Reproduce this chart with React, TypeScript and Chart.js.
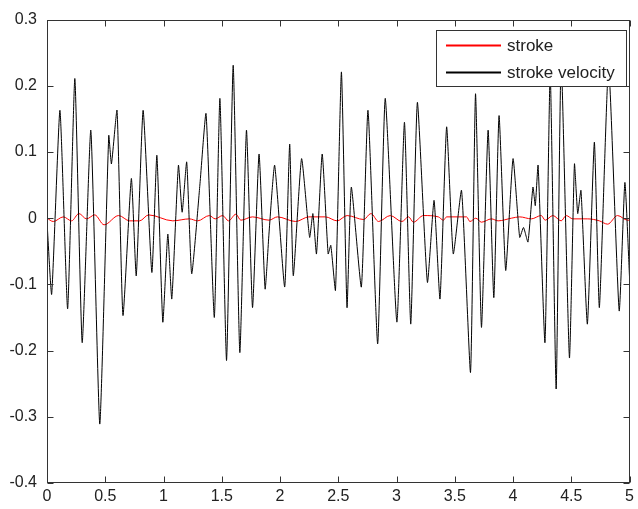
import React, { useEffect, useRef } from "react";
import { Chart, registerables } from "chart.js";

Chart.register(...registerables);

// time (s) and values of "stroke velocity" (black)
const velocityTime = [
  0.0, 0.04, 0.111, 0.177, 0.239, 0.302, 0.376, 0.453, 0.53, 0.553, 0.601, 0.652, 0.724, 0.766, 0.825,
  0.9, 0.943, 0.994, 1.037, 1.071, 1.128, 1.16, 1.199, 1.242, 1.313, 1.365, 1.436, 1.484, 1.541, 1.598,
  1.655, 1.712, 1.764, 1.82, 1.872, 1.905, 1.954, 2.04, 2.083, 2.114, 2.185, 2.254, 2.282, 2.313, 2.362,
  2.413, 2.436, 2.476, 2.527, 2.575, 2.612, 2.698, 2.755, 2.838, 2.903, 3.003, 3.068, 3.122, 3.179, 3.265,
  3.322, 3.373, 3.43, 3.487, 3.558, 3.635, 3.678, 3.729, 3.786, 3.835, 3.88, 3.937, 4.0, 4.057, 4.09,
  4.128, 4.171, 4.191, 4.215, 4.274, 4.319, 4.37, 4.413, 4.484, 4.527, 4.555, 4.583, 4.638, 4.698, 4.741,
  4.82, 4.911, 4.96, 5.0,
];
const velocityValues = [
  -0.005, -0.115, 0.163, -0.137, 0.211, -0.188, 0.133, -0.311, 0.125, 0.082, 0.163, -0.147, 0.06, -0.087, 0.163,
  -0.082, 0.095, -0.157, -0.024, -0.122, 0.08, 0.009, 0.085, -0.084, 0.052, 0.158, -0.15, 0.181, -0.215, 0.231,
  -0.203, 0.133, -0.135, 0.097, -0.107, -0.024, 0.08, -0.104, 0.112, -0.087, 0.09, -0.029, 0.007, -0.054, 0.097,
  -0.054, -0.041, -0.109, 0.221, -0.135, 0.047, -0.104, 0.163, -0.19, 0.181, -0.157, 0.145, -0.16, 0.175, -0.097,
  0.027, -0.122, 0.138, -0.054, 0.042, -0.233, 0.188, -0.165, 0.133, -0.12, 0.155, -0.079, 0.09, -0.029, -0.014,
  -0.036, 0.047, 0.019, 0.08, -0.188, 0.22, -0.258, 0.24, -0.211, 0.082, 0.007, 0.042, -0.16, 0.115, -0.135,
  0.23, -0.14, 0.054, -0.09,
];

// time (s) and values of "stroke" (red)
const strokeTime = [
  0, 0.054, 0.14, 0.211, 0.274, 0.339, 0.41, 0.49, 0.615, 0.709, 0.795, 0.872, 1.08, 1.222, 1.293, 1.393,
  1.444, 1.507, 1.558, 1.621, 1.664, 1.764, 1.906, 1.977, 2.134, 2.248, 2.39, 2.49, 2.576, 2.718, 2.78,
  2.846, 2.946, 3.046, 3.103, 3.145, 3.231, 3.359, 3.402, 3.43, 3.601, 3.63, 3.68, 3.729, 3.815, 3.872,
  3.986, 4.057, 4.157, 4.242, 4.276, 4.342, 4.413, 4.456, 4.513, 4.641, 4.741, 4.812, 4.897, 4.983, 5.0,
];
const strokeValues = [
  0, -0.005, 0.002, -0.004, 0.007, -0.001, 0.005, -0.01, 0.004, -0.004, -0.004, 0.005, -0.004, -0.001, -0.004, 0.004,
  -0.001, 0.004, -0.004, 0.006, -0.003, 0.002, -0.003, 0.002, -0.005, 0.002, 0.002, -0.004, 0.004, -0.002, 0.007,
  -0.005, 0.004, -0.005, 0.002, -0.006, 0.004, 0.002, -0.003, 0.002, 0.002, -0.005, 0, -0.006, -0.001, -0.004,
  0, 0.002, -0.001, 0.004, -0.003, 0.004, -0.004, 0.004, -0.001, -0.001, -0.004, -0.009, 0.004, -0.003, -0.003,
];

const xTickValues = [0, 0.5, 1, 1.5, 2, 2.5, 3, 3.5, 4, 4.5, 5];
const yTickValues = [-0.4, -0.3, -0.2, -0.1, 0, 0.1, 0.2, 0.3];
const seriesNames = ["stroke", "stroke velocity"];
const seriesColors = ["#ff0000", "#000000"];

const FONT = "'Liberation Sans', Arial, Helvetica, sans-serif";
const TEXT_COLOR = "#222222";
const FRAME_COLOR = "#333333";

const fmt = (v: number) => String(Math.round(v * 10) / 10);

const framePlugin = {
  id: "matlabFrame",
  afterDatasetsDraw(chart: any) {
    const { ctx, chartArea: a, scales } = chart;
    const L = Math.round(a.left) + 0.5;
    const R = Math.round(a.right) - 0.5;
    const T = Math.round(a.top) + 0.5;
    const B = Math.round(a.bottom) - 0.5;
    ctx.save();
    ctx.strokeStyle = FRAME_COLOR;
    ctx.lineWidth = 1;
    ctx.strokeRect(L, T, R - L, B - T);
    const tl = 6;
    ctx.beginPath();
    for (const v of xTickValues) {
      const x = Math.round(scales.x.getPixelForValue(v)) + 0.5;
      ctx.moveTo(x, B);
      ctx.lineTo(x, B - tl);
      ctx.moveTo(x, T);
      ctx.lineTo(x, T + tl);
    }
    for (const v of yTickValues) {
      const y = Math.round(scales.y.getPixelForValue(v)) + 0.5;
      ctx.moveTo(L, y);
      ctx.lineTo(L + tl, y);
      ctx.moveTo(R, y);
      ctx.lineTo(R - tl, y);
    }
    ctx.stroke();

    // legend box
    const lx = 436.5, ly = 30.5, lw = 190, lh = 56;
    ctx.fillStyle = "#ffffff";
    ctx.fillRect(lx, ly, lw, lh);
    ctx.strokeStyle = FRAME_COLOR;
    ctx.strokeRect(lx, ly, lw, lh);
    const rows = [45, 72];
    ctx.font = `17px ${FONT}`;
    ctx.textBaseline = "middle";
    ctx.textAlign = "left";
    for (let i = 0; i < seriesNames.length; i++) {
      ctx.fillStyle = seriesColors[i];
      ctx.fillRect(446, rows[i] - 0.5, 55, 2);
      ctx.fillStyle = TEXT_COLOR;
      ctx.fillText(seriesNames[i], 507, rows[i] + 1.5);
    }
    ctx.restore();
  },
};

export default function App() {
  const canvasRef = useRef<HTMLCanvasElement | null>(null);

  useEffect(() => {
    const canvas = canvasRef.current;
    if (!canvas) return;
    const strokeData = strokeTime.map((t, i) => ({ x: t, y: strokeValues[i] }));
    const velocityData = velocityTime.map((t, i) => ({ x: t, y: velocityValues[i] }));
    const chart = new Chart(canvas, {
      type: "line",
      data: {
        datasets: [
          {
            label: seriesNames[1],
            data: velocityData,
            borderColor: seriesColors[1],
            borderWidth: 1,
            pointRadius: 0,
            tension: 0.15,
            fill: false,
          },
          {
            label: seriesNames[0],
            data: strokeData,
            borderColor: seriesColors[0],
            borderWidth: 1,
            pointRadius: 0,
            cubicInterpolationMode: "monotone",
            fill: false,
          },
        ],
      },
      options: {
        responsive: false,
        animation: false,
        devicePixelRatio: 1,
        layout: { padding: { top: 19, right: 6, left: 0, bottom: 0 } },
        plugins: { legend: { display: false }, tooltip: { enabled: false } },
        scales: {
          x: {
            type: "linear",
            min: 0,
            max: 5,
            afterBuildTicks: (s: any) => {
              s.ticks = xTickValues.map((v) => ({ value: v }));
            },
            afterFit: (s: any) => {
              s.height = 26;
            },
            grid: { display: false, drawTicks: false },
            border: { display: false },
            ticks: {
              padding: 4,
              maxRotation: 0,
              autoSkip: false,
              color: TEXT_COLOR,
              font: { family: FONT, size: 16 },
              callback: (v: any) => fmt(Number(v)),
            },
          },
          y: {
            type: "linear",
            min: -0.4,
            max: 0.3,
            afterBuildTicks: (s: any) => {
              s.ticks = yTickValues.map((v) => ({ value: v }));
            },
            afterFit: (s: any) => {
              s.width = 47;
            },
            grid: { display: false, drawTicks: false },
            border: { display: false },
            ticks: {
              padding: 10,
              autoSkip: false,
              color: TEXT_COLOR,
              font: { family: FONT, size: 16 },
              callback: (v: any) => fmt(Number(v)),
            },
          },
        },
      },
      plugins: [framePlugin],
    });
    return () => chart.destroy();
  }, []);

  return (
    <div style={{ position: "absolute", left: 0, top: 0, width: 638, height: 509, background: "#fff" }}>
      <canvas ref={canvasRef} width={638} height={509} style={{ display: "block" }} />
    </div>
  );
}
